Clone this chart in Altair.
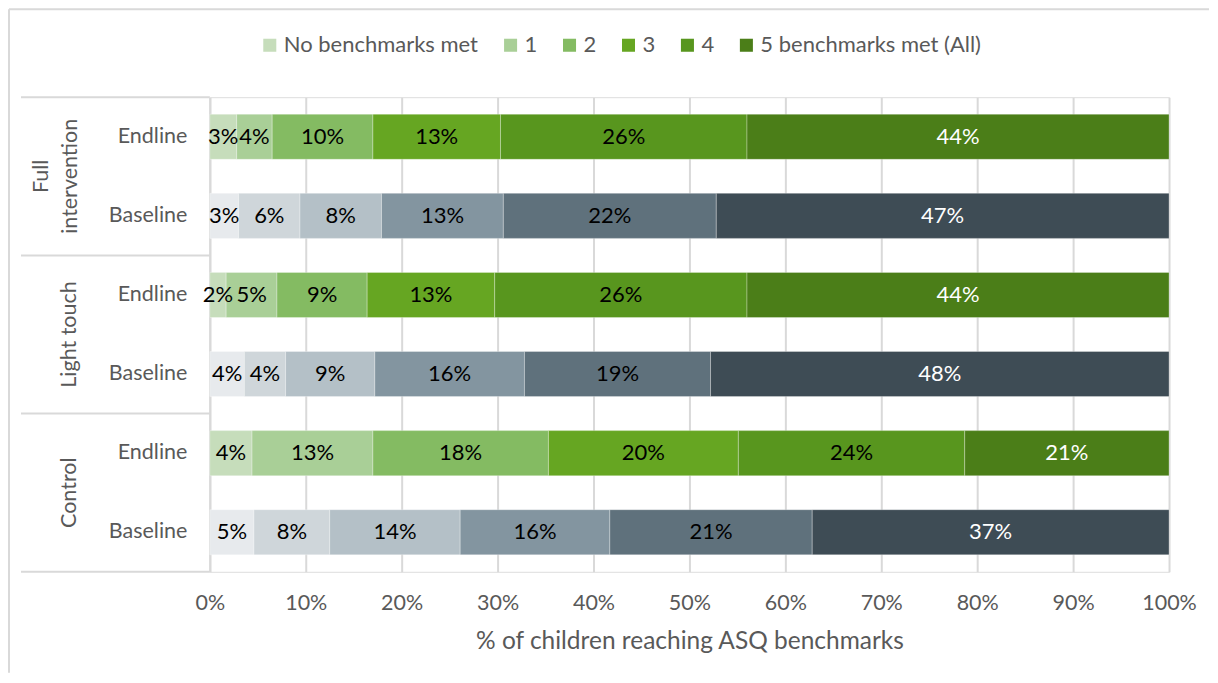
import altair as alt
import pandas as pd

groups = ["Full intervention", "Light touch", "Control"]
group_labels = ["Full\nintervention", "Light touch", "Control"]
phases = ["Endline", "Baseline"]
categories = ["No benchmarks met", "1", "2", "3", "4", "5 benchmarks met (All)"]

fi_endline = [2.8, 3.7, 10.5, 13.3, 25.7, 44.0]
fi_baseline = [3.0, 6.4, 8.5, 12.7, 22.2, 47.2]
lt_endline = [1.7, 5.3, 9.4, 13.3, 26.3, 44.0]
lt_baseline = [3.6, 4.3, 9.3, 15.6, 19.4, 47.8]
c_endline = [4.4, 12.6, 18.3, 19.8, 23.6, 21.3]
c_baseline = [4.6, 7.9, 13.6, 15.6, 21.1, 37.2]

endline_colors = ["#c6ddbb", "#a9cf97", "#84bb62", "#66a622", "#58961e", "#4b7e18"]
baseline_colors = ["#e7eaed", "#cfd6da", "#b4c0c7", "#8395a0", "#5f717c", "#3e4c55"]

series = [fi_endline, fi_baseline, lt_endline, lt_baseline, c_endline, c_baseline]

W, H = 960, 475
PAD_IN = 0.43
PAD_OUT = PAD_IN / 2
rows = [g + " | " + p for g in groups for p in phases]
step = H / len(rows)

records = []
for r, vals in zip(rows, series):
    phase = r.split(" | ")[1]
    for i, (c, v) in enumerate(zip(categories, vals)):
        key = c if phase == "Endline" else "Baseline: " + c
        records.append(dict(row=r, cat=c, ci=i, key=key, value=v,
                            label=f"{v:.0f}%",
                            tc="#ffffff" if i == 5 else "#000000"))
df = pd.DataFrame(records)

keys = categories + ["Baseline: " + c for c in categories]
colors = endline_colors + baseline_colors

FONT = "Lato"
GREY = "#595959"
LINE = "#d9d9d9"

Y = alt.Y("row:N", sort=rows,
          scale=alt.Scale(domain=rows, paddingInner=PAD_IN, paddingOuter=PAD_OUT),
          axis=alt.Axis(title=None, labelExpr="split(datum.label, ' | ')[1]",
                        labelFontSize=21.5, labelColor=GREY, labelPadding=23,
                        ticks=False, grid=False, domainColor=LINE, domainWidth=2,
                        labelFont=FONT))

base = alt.Chart(df).transform_stack(
    stack="value", as_=["v0", "v1"], groupby=["row"],
    sort=[alt.SortField("ci", order="ascending")], offset="normalize"
).transform_calculate(mid="(datum.v0 + datum.v1) / 2")

bars = base.mark_bar(stroke="white", strokeWidth=0.6, strokeOpacity=0.5).encode(
    y=Y,
    x=alt.X("v0:Q", scale=alt.Scale(domain=[0, 1], nice=False),
            axis=alt.Axis(format="%", values=[i / 10 for i in range(11)],
                          title="% of children reaching ASQ benchmarks",
                          labelFontSize=21.5, labelColor=GREY, labelPadding=21,
                          labelFlush=False, labelOverlap=False,
                          titleFontSize=24.5, titleColor=GREY, titleFontWeight="normal",
                          titlePadding=15, grid=True, gridColor=LINE, gridWidth=2,
                          domain=False, ticks=False, labelFont=FONT, titleFont=FONT)),
    x2="v1:Q",
    color=alt.Color("key:N", scale=alt.Scale(domain=keys, range=colors),
                    legend=alt.Legend(values=categories, title=None, orient="none",
                                      legendX=49, legendY=-63, direction="horizontal",
                                      symbolType="square", symbolSize=170,
                                      symbolStrokeWidth=0, labelFontSize=22,
                                      labelColor=GREY, labelFont=FONT,
                                      columnPadding=21, labelOffset=3, labelLimit=0)),
)

text = base.mark_text(fontSize=22, font=FONT).encode(
    y=Y,
    x=alt.X("mid:Q"),
    text="label:N",
    color=alt.Color("tc:N", scale=None),
)

# separators: yOffset positions are measured from the band start
top_off = -step * PAD_OUT
bottom_off = step * (1 - PAD_OUT)
sep_df = pd.DataFrame({"row": [rows[0], rows[2], rows[4], rows[5]],
                       "off": [top_off, top_off, top_off, bottom_off]})
seps = alt.Chart(sep_df).mark_rule(color=LINE, strokeWidth=2).encode(
    y=Y,
    yOffset=alt.YOffset("off:Q", scale=None),
    x=alt.value(-189), x2=alt.value(0),
)

grp_df = pd.DataFrame({"row": [rows[0], rows[2], rows[4]], "name": group_labels,
                       "off": [bottom_off] * 3})
grp_base = alt.Chart(grp_df).transform_calculate(
    multi="indexof(datum.name, '\\n') >= 0")
grp_single = grp_base.transform_filter("!datum.multi").mark_text(
    angle=270, fontSize=21.5, color=GREY, font=FONT, baseline="middle",
    align="center").encode(
    y=Y, yOffset=alt.YOffset("off:Q", scale=None), x=alt.value(-140), text="name:N")
grp_multi = grp_base.transform_filter("datum.multi").mark_text(
    angle=270, fontSize=21.5, color=GREY, font=FONT, baseline="middle",
    align="center", lineBreak="\n", lineHeight=29).encode(
    y=Y, yOffset=alt.YOffset("off:Q", scale=None), x=alt.value(-168), text="name:N")

frame_top = alt.Chart(pd.DataFrame({"a": [0]})).mark_rule(color=LINE, strokeWidth=2).encode(
    x=alt.value(-201), x2=alt.value(1000), y=alt.value(-88))
frame_left = alt.Chart(pd.DataFrame({"a": [0]})).mark_rule(color=LINE, strokeWidth=2).encode(
    x=alt.value(-201), y=alt.value(-88), y2=alt.value(576))

chart = alt.layer(frame_top, frame_left, seps, bars, text, grp_single, grp_multi).properties(
    width=W, height=H, padding=0
).configure_view(stroke=None).configure(font=FONT)

chart.save("out.html", embed_options={"renderer": "svg", "actions": False})
